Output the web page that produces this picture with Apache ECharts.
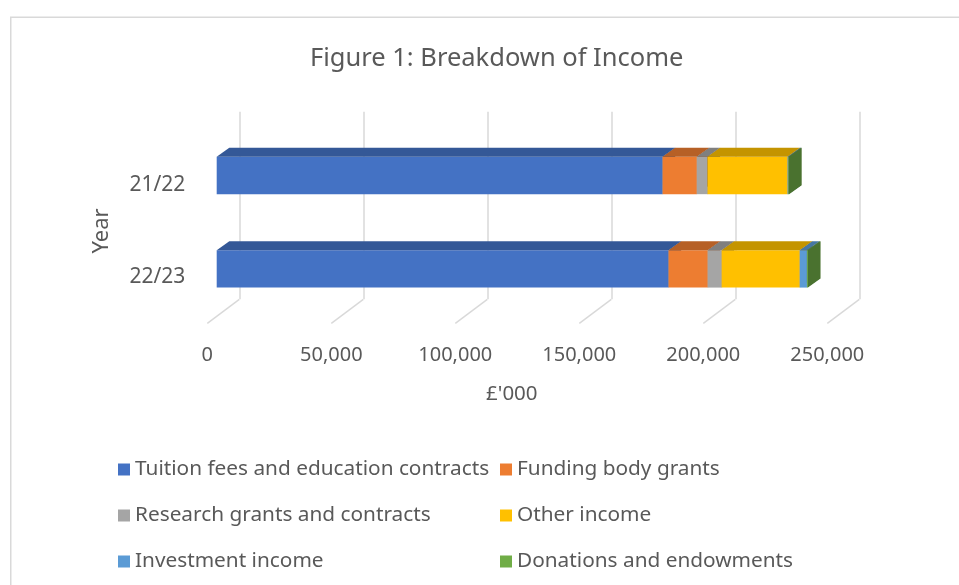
<!DOCTYPE html>
<html>
<head>
<meta charset="utf-8">
<script src="https://cdn.jsdelivr.net/npm/echarts@6/dist/echarts.min.js"></script>
<style>
  html, body { margin: 0; background: #fff; }
  #chart { width: 959px; height: 585px; }
</style>
</head>
<body>
<div id="chart"></div>
<script>
// £'000, bottom bar first
const years = ['22/23', '21/22']
const tuition = [182200, 179800]
const fundingBody = [15800, 13800]
const research = [5600, 4300]
const otherIncome = [31500, 32300]
const investment = [2900, 300]
const donations = [400, 300]
const xTicks = [0, 50000, 100000, 150000, 200000, 250000]

const seriesDefs = [
  { name: 'Tuition fees and education contracts', values: tuition, color: '#4472C4' },
  { name: 'Funding body grants', values: fundingBody, color: '#ED7D31' },
  { name: 'Research grants and contracts', values: research, color: '#A5A5A5' },
  { name: 'Other income', values: otherIncome, color: '#FFC000' },
  { name: 'Investment income', values: investment, color: '#5B9BD5' },
  { name: 'Donations and endowments', values: donations, color: '#70AD47' }
]

const DX = 12.6 // bar depth
const DY = 9
const FONT = 'Noto Sans'
const TEXT = '#595959'
const GRID = '#d9d9d9'

function shade (hex, k) {
  const n = parseInt(hex.slice(1), 16)
  const r = Math.round(((n >> 16) & 255) * k)
  const g = Math.round(((n >> 8) & 255) * k)
  const b = Math.round((n & 255) * k)
  return 'rgb(' + r + ',' + g + ',' + b + ')'
}

function fmt (v) {
  return String(v).replace(/\B(?=(\d{3})+(?!\d))/g, ',')
}

// running totals for stacking
const base = years.map(() => 0)
const barSeries = seriesDefs.map(def => {
  const data = def.values.map((v, j) => {
    const item = [base[j], base[j] + v, j]
    base[j] += v
    return item
  })
  const top = shade(def.color, 0.77)
  const side = shade(def.color, 0.66)
  return {
    name: def.name,
    type: 'custom',
    xAxisIndex: 0,
    yAxisIndex: 0,
    itemStyle: { color: def.color },
    data: data,
    renderItem (params, api) {
      const cat = api.value(2)
      const p0 = api.coord([api.value(0), cat])
      const p1 = api.coord([api.value(1), cat])
      const h = api.size([0, 1])[1] * 0.4
      const x0 = p0[0]
      const x1 = p1[0]
      const yt = p0[1] - h / 2
      const yb = p0[1] + h / 2
      return {
        type: 'group',
        children: [
          { type: 'rect', shape: { x: x0, y: yt, width: x1 - x0, height: h }, style: { fill: def.color } },
          { type: 'polygon', shape: { points: [[x0, yt], [x1, yt], [x1 + DX, yt - DY], [x0 + DX, yt - DY]] }, style: { fill: top } },
          { type: 'polygon', shape: { points: [[x1, yt], [x1 + DX, yt - DY], [x1 + DX, yb - DY], [x1, yb]] }, style: { fill: side } }
        ]
      }
    }
  }
})

// floor lines under the back wall gridlines
const floorSeries = {
  type: 'custom',
  xAxisIndex: 1,
  yAxisIndex: 1,
  silent: true,
  data: xTicks.map(v => [v, 0]),
  renderItem (params, api) {
    const p = api.coord([api.value(0), 0])
    return {
      type: 'line',
      shape: { x1: p[0], y1: p[1], x2: p[0] - 32, y2: p[1] + 24 },
      style: { stroke: GRID, lineWidth: 1.5 }
    }
  }
}

const chart = echarts.init(document.getElementById('chart'))

const valueAxis = {
  type: 'value',
  min: 0,
  max: 250000,
  interval: 50000
}

const legendText = { fontFamily: FONT, fontSize: 20.8, lineHeight: 20, color: TEXT }

chart.setOption({
  animation: false,
  textStyle: { fontFamily: FONT },
  title: {
    text: 'Figure 1: Breakdown of Income',
    left: 305,
    top: 41,
    textStyle: { fontFamily: FONT, fontSize: 25.5, fontWeight: 'normal', color: TEXT }
  },
  graphic: [
    {
      type: 'rect',
      shape: { x: 10.75, y: 17.25, width: 1000, height: 700 },
      style: { fill: 'none', stroke: GRID, lineWidth: 1.5 },
      silent: true
    }
  ],
  legend: [
    {
      orient: 'vertical',
      left: 118,
      top: 459,
      padding: 0,
      itemGap: 25,
      itemWidth: 12,
      itemHeight: 12,
      icon: 'rect',
      textStyle: legendText,
      data: [seriesDefs[0].name, seriesDefs[2].name, seriesDefs[4].name]
    },
    {
      orient: 'vertical',
      left: 500,
      top: 459,
      padding: 0,
      itemGap: 25,
      itemWidth: 12,
      itemHeight: 12,
      icon: 'rect',
      textStyle: legendText,
      data: [seriesDefs[1].name, seriesDefs[3].name, seriesDefs[5].name]
    }
  ],
  grid: [
    { left: 216.7, width: 620, top: 128.8, height: 186.8 }, // bar front plane
    { left: 239.3, width: 620, top: 111.7, height: 187.6 }, // back wall
    { left: 207.3, width: 620, top: 139, height: 184 } // floor front edge, labels
  ],
  xAxis: [
    Object.assign({}, valueAxis, { gridIndex: 0, show: false }),
    Object.assign({}, valueAxis, {
      gridIndex: 1,
      axisLine: { show: false },
      axisTick: { show: false },
      axisLabel: { show: false },
      splitLine: { show: true, lineStyle: { color: GRID, width: 1.5 } }
    }),
    Object.assign({}, valueAxis, {
      gridIndex: 2,
      axisLine: { show: false },
      axisTick: { show: false },
      splitLine: { show: false },
      axisLabel: { margin: 22, fontSize: 20, color: TEXT, formatter: fmt },
      name: "£'000",
      nameLocation: 'middle',
      nameGap: 61,
      nameTextStyle: { fontSize: 20.5, color: TEXT, padding: [0, 11, 0, 0] }
    })
  ],
  yAxis: [
    { type: 'category', gridIndex: 0, data: years, show: false },
    { type: 'value', gridIndex: 1, min: 0, max: 1, show: false },
    {
      type: 'category',
      gridIndex: 2,
      data: years,
      axisLine: { show: false },
      axisTick: { show: false },
      splitLine: { show: false },
      axisLabel: { margin: 22, fontSize: 21, color: TEXT },
      name: 'Year',
      nameLocation: 'middle',
      nameRotate: 90,
      nameGap: 95,
      nameTextStyle: { fontSize: 22, color: TEXT }
    }
  ],
  series: [floorSeries].concat(barSeries)
})
</script>
</body>
</html>
